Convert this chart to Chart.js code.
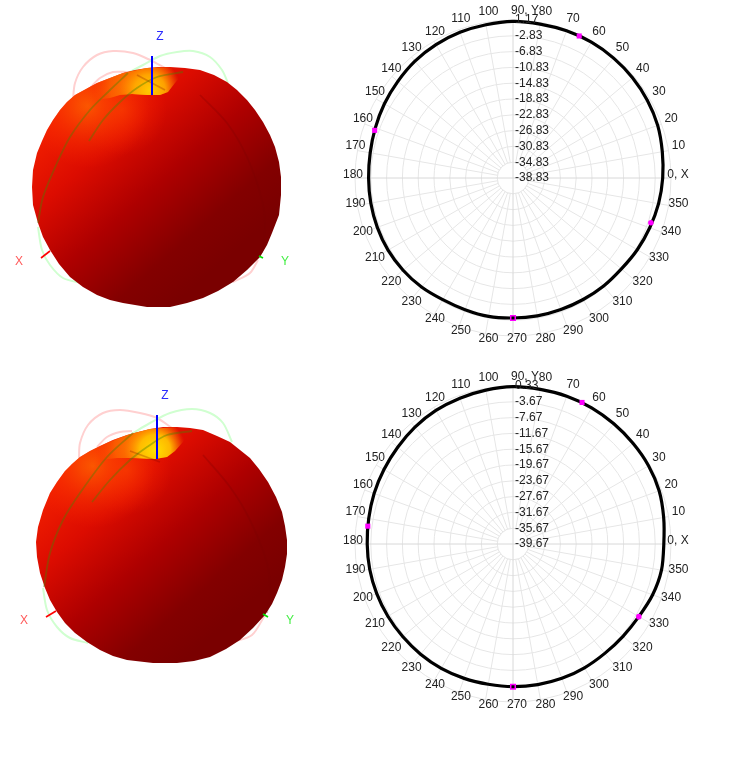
<!DOCTYPE html>
<html lang="en">
<head>
    <meta charset="utf-8" />
    <title>Radiation pattern</title>
    <style>
        body { margin: 0; background: #fff; }
        canvas { position: absolute; }
    </style>
    <script src="https://cdn.jsdelivr.net/npm/chart.js"></script>
</head>
<body>
    <canvas id="ball1" style="left:0;top:20px" width="310" height="300"></canvas>
    <canvas id="polar1" style="left:333px;top:0" width="360" height="356"></canvas>
    <canvas id="ball2" style="left:0;top:380px" width="310" height="300"></canvas>
    <canvas id="polar2" style="left:333px;top:366px" width="360" height="356"></canvas>
    <script>
        // polar traces, one value every 10 degrees starting at 0
        const traceAngles = [0, 10, 20, 30, 40, 50, 60, 70, 80, 90, 100, 110, 120, 130, 140, 150, 160, 170, 180, 190, 200, 210, 220, 230, 240, 250, 260, 270, 280, 290, 300, 310, 320, 330, 340, 350];
        const angleLabels = ['0, X', '10', '20', '30', '40', '50', '60', '70', '80', '90, Y', '100', '110', '120', '130', '140', '150', '160', '170', '180', '190', '200', '210', '220', '230', '240', '250', '260', '270', '280', '290', '300', '310', '320', '330', '340', '350'];

        const trace1 = [-0.93, -0.45, 0.15, 0.46, 0.66, 0.79, 0.87, 0.82, 0.74, 0.82, 0.56, 0.41, 0.16, -0.22, -0.78, -1.24, -1.74, -2.12, -2.27, -2.27, -2.27, -2.30, -2.50, -2.80, -3.26, -3.34, -3.24, -3.39, -3.39, -3.39, -3.31, -3.13, -3.01, -2.50, -1.99, -1.41];
        const ticks1 = [-38.83, -34.83, -30.83, -26.83, -22.83, -18.83, -14.83, -10.83, -6.83, -2.83, 1.17];
        const markerAngles1 = [65, 161, 342];
        const markerValues1 = [0.84, -1.79, -2.12];
        const minAngle1 = [270];
        const minValue1 = [-3.39];

        const trace2 = [-1.49, -0.94, -0.30, -0.05, -0.02, 0.05, 0.15, 0.15, 0.08, 0.15, -0.10, -0.38, -0.63, -1.06, -1.57, -1.95, -2.25, -2.58, -2.76, -2.83, -2.96, -3.09, -3.21, -3.26, -3.32, -3.47, -3.62, -3.54, -3.52, -3.47, -3.49, -3.52, -3.32, -2.89, -2.05, -1.50];
        const ticks2 = [-39.67, -35.67, -31.67, -27.67, -23.67, -19.67, -15.67, -11.67, -7.67, -3.67, 0.33];
        const markerAngles2 = [64, 173, 330];
        const markerValues2 = [0.20, -2.63, -2.89];
        const minAngle2 = [270];
        const minValue2 = [-3.54];

        // 3D views, points
        const outline1 = [[170,47],[185,48],[200,50],[214,55],[227,62],[237,70],[247,80],[255,90],[263,102],[270,115],[275,127],[279,142],[281,157],[281,175],[279,195],[272,213],[267,225],[260,237],[247,250],[233,262],[218,271],[203,278],[187,283],[170,287],[147,287],[123,283],[110,280],[97,275],[83,267],[70,257],[59,244],[50,230],[43,217],[38,203],[33,185],[32,167],[33,150],[37,133],[42,121],[47,110],[53,100],[60,90],[67,82],[75,75],[86,69],[97,63],[110,58],[123,53],[135,50],[147,48],[158,47]];
        const dimple1 = [[80,80],[95,80],[110,78],[120,75],[132,74],[147,75],[160,75],[168,72],[175,63],[182,55],[186,48],[170,47],[147,48],[123,53],[97,63],[75,75]];
        const loops1 = [
            [[73,80],[75,63],[83,47],[97,35],[113,31],[133,33],[150,40],[165,48]],
            [[90,68],[100,58],[113,52],[128,52]],
            [[128,53],[143,45],[160,36],[177,32],[193,31],[210,37],[222,50],[228,63]],
            [[38,207],[42,230],[50,245],[63,258],[82,263]],
            [[233,262],[250,253],[258,240]]
        ];
        const greenOnBall1 = [[[38,203],[43,177],[57,143],[70,117],[90,90],[110,70],[128,53]], [[89,121],[103,100],[120,82],[137,68],[157,57],[183,52]]];
        const redOnBall1 = [[[200,75],[227,103],[247,137],[262,180],[265,207],[262,233]], [[137,55],[165,70]]];
        const axisZ1 = [[152,36],[152,75]];
        const axisX1 = [[41,238],[50,231]];
        const axisY1 = [[259,236],[263,238]];
        const axisText1 = [['Z', 160, 17, '#2a2aff'], ['X', 19, 242, '#ff5a5a'], ['Y', 285, 242, '#44ee44']];

        const outline2 = [[177,47],[190,48],[203,50],[217,56],[230,62],[240,70],[250,78],[259,89],[268,102],[276,117],[282,132],[285,146],[287,160],[287,174],[285,187],[282,200],[277,213],[272,224],[265,235],[253,248],[240,260],[226,269],[210,277],[194,281],[177,283],[153,283],[127,280],[113,276],[100,270],[87,262],[75,253],[65,243],[57,232],[50,220],[45,208],[40,193],[37,177],[36,162],[38,147],[43,130],[50,113],[57,102],[65,91],[72,84],[80,77],[90,71],[100,66],[113,60],[127,55],[138,52],[150,49],[163,47]];
        const dimple2 = [[85,80],[100,80],[117,78],[133,78],[155,79],[167,77],[175,71],[183,62],[187,55],[190,48],[177,47],[150,49],[127,55],[100,66],[80,77]];
        const loops2 = [
            [[79,78],[80,63],[88,45],[103,33],[120,30],[140,33],[157,38],[172,48]],
            [[97,67],[107,57],[120,52],[132,51]],
            [[133,53],[150,43],[170,33],[192,29],[210,33],[223,43],[232,62]],
            [[43,208],[47,230],[57,247],[70,258],[88,263]],
            [[233,262],[252,255],[265,235]]
        ];
        const greenOnBall2 = [[[44,207],[50,173],[63,140],[80,113],[107,77],[133,53]], [[92,122],[110,100],[130,80],[147,67],[167,55],[192,51]]];
        const redOnBall2 = [[[203,75],[230,107],[250,140],[267,183],[270,210],[267,233]], [[130,71],[160,82]]];
        const axisZ2 = [[157,35],[157,79]];
        const axisX2 = [[46,237],[56,231]];
        const axisY2 = [[263,234],[268,237]];
        const axisText2 = [['Z', 165, 16, '#2a2aff'], ['X', 24, 241, '#ff5a5a'], ['Y', 290, 241, '#44ee44']];

        const gridColor = '#e6e6e6';
        const axisLineColor = '#d8d8d8';
        const textColor = '#222';

        // the radar goes clockwise from the top, our angles go the other way from the right
        function angleIndex(angle) {
            return (90 - angle + 360) % 360;
        }

        function toSeries(angles, values) {
            const series = new Array(360).fill(NaN);
            angles.forEach((a, i) => { series[angleIndex(a)] = values[i]; });
            return series;
        }

        const polarPlugin = {
            id: 'polarExtras',
            beforeDatasetsDraw(chart) {
                const scale = chart.scales.r;
                const ctx = chart.ctx;
                const hole = scale.getDistanceFromCenterForValue(scale.ticks[1].value);
                ctx.save();
                ctx.fillStyle = '#fff';
                ctx.strokeStyle = gridColor;
                ctx.beginPath();
                ctx.arc(scale.xCenter, scale.yCenter, hole, 0, Math.PI * 2);
                ctx.fill();
                ctx.stroke();
                ctx.strokeStyle = axisLineColor;
                ctx.beginPath();
                ctx.moveTo(scale.xCenter - hole, scale.yCenter);
                ctx.lineTo(scale.xCenter + hole, scale.yCenter);
                ctx.moveTo(scale.xCenter, scale.yCenter - hole);
                ctx.lineTo(scale.xCenter, scale.yCenter + hole);
                ctx.stroke();
                ctx.restore();
            },
            afterDatasetsDraw(chart) {
                const scale = chart.scales.r;
                const ctx = chart.ctx;
                ctx.save();
                ctx.font = '12px "Liberation Sans", Arial, sans-serif';
                ctx.fillStyle = textColor;
                ctx.textBaseline = 'middle';
                // value labels go straight up the 90 degree line
                ctx.textAlign = 'left';
                scale.ticks.forEach(t => {
                    const p = scale.getPointPositionForValue(0, t.value);
                    ctx.fillText(t.value.toFixed(2), p.x + 2, p.y);
                });
                ctx.textAlign = 'center';
                traceAngles.forEach((a, i) => {
                    const px = scale.getPointPosition(angleIndex(a), 164).x + 4;
                    const py = scale.getPointPosition(angleIndex(a), 166).y - 3;
                    const nudge = a === 0 ? -3 : a === 90 ? 8 : 0;
                    ctx.fillText(angleLabels[i], px + nudge, py + (a === 90 ? 2 : a === 270 ? -2 : 0));
                });
                ctx.restore();
            }
        };

        function drawPolar(id, trace, ticks, markerAngles, markerValues, minAngle, minValue) {
            const labels = Array.from({ length: 360 }, (_, i) => String(angleIndex(i)));
            new Chart(document.getElementById(id), {
                type: 'radar',
                data: {
                    labels: labels,
                    datasets: [
                        {
                            data: toSeries(markerAngles, markerValues),
                            showLine: false,
                            pointStyle: c => (c.raw === markerValues[2] ? 'circle' : 'rect'),
                            pointRadius: c => (c.raw === markerValues[2] ? 2.8 : 3.6),
                            pointBorderWidth: 0,
                            pointBackgroundColor: '#ff00ff'
                        },
                        {
                            data: toSeries(minAngle, minValue),
                            showLine: false,
                            pointStyle: 'rect',
                            pointRadius: 3.2,
                            pointBorderWidth: 1.5,
                            pointBorderColor: '#ff00ff',
                            pointBackgroundColor: '#000'
                        },
                        {
                            data: toSeries(traceAngles, trace),
                            spanGaps: true,
                            borderColor: '#000',
                            borderWidth: 3.2,
                            tension: 0.3,
                            pointRadius: 0,
                            fill: false
                        }
                    ]
                },
                options: {
                    responsive: false,
                    animation: false,
                    events: [],
                    layout: { padding: { left: 22, right: 22, top: 20, bottom: 20 } },
                    plugins: { legend: { display: false }, tooltip: { enabled: false } },
                    scales: {
                        r: {
                            min: ticks[0],
                            max: ticks[ticks.length - 1],
                            afterBuildTicks: scale => { scale.ticks = ticks.map(v => ({ value: v })); },
                            ticks: { display: false },
                            pointLabels: { display: false },
                            grid: { circular: true, color: gridColor, lineWidth: 1 },
                            angleLines: {
                                color: c => (c.index % 90 === 0 ? axisLineColor : gridColor),
                                lineWidth: c => (c.index % 10 === 0 ? 1 : 0)
                            }
                        }
                    }
                },
                plugins: [polarPlugin]
            });
        }

        function toPoints(list) {
            return list.map(p => ({ x: p[0], y: p[1] }));
        }

        // x and y scales run 1:1 with the canvas, so gradient stops sit in the same units
        function radial(c, x, y, r, stops) {
            const g = c.chart.ctx.createRadialGradient(x, y, 0, x, y, r);
            stops.forEach(s => g.addColorStop(s[0], s[1]));
            return g;
        }

        function linear(c, x0, y0, x1, y1, stops) {
            const g = c.chart.ctx.createLinearGradient(x0, y0, x1, y1);
            stops.forEach(s => g.addColorStop(s[0], s[1]));
            return g;
        }

        function filled(points, color) {
            return { data: toPoints(points), showLine: true, fill: 'shape', tension: 0, pointRadius: 0, borderWidth: 0, borderColor: 'transparent', backgroundColor: color };
        }

        function stroked(points, color, width) {
            return { data: toPoints(points), showLine: true, fill: false, tension: points.length > 2 ? 0.3 : 0, pointRadius: 0, borderWidth: width, borderColor: color };
        }

        function drawBall(id, outline, dimple, loops, greenOnBall, redOnBall, axisZ, axisX, axisY, axisText, shift) {
            const dx = shift;
            const base = c => linear(c, 75 + dx, 70, 225 + dx, 240, [[0, '#f52200'], [0.28, '#dc0c00'], [0.55, '#ae0000'], [0.82, '#830000'], [1, '#7a0000']]);
            const glow = c => radial(c, 88 + dx, 86, 62, [[0, 'rgba(255,110,0,0.78)'], [0.55, 'rgba(255,65,0,0.36)'], [1, 'rgba(255,40,0,0)']]);
            const underLip = c => radial(c, 122 + dx, 90, 45, [[0, 'rgba(255,70,0,0.5)'], [1, 'rgba(255,40,0,0)']]);
            const band = c => radial(c, 135 + dx, 66, 42, [[0, 'rgba(255,150,0,0.95)'], [0.6, 'rgba(255,120,0,0.6)'], [1, 'rgba(255,90,0,0)']]);
            const yellow = c => radial(c, 150 + dx, 70, 31, [[0, dx ? '#ffe000' : '#ffcc00'], [0.5, dx ? 'rgba(255,190,0,0.95)' : 'rgba(255,170,0,0.9)'], [1, 'rgba(255,120,0,0)']]);

            const list = [];
            loops.forEach((l, i) => list.push(stroked(l, i < 2 || i === 4 ? '#ffd0d0' : '#d0ffd0', 2)));
            list.push(filled(outline, base));
            list.push(filled(outline, glow));
            list.push(filled(outline, underLip));
            list.push(filled(dimple, band));
            list.push(filled(dimple, yellow));
            greenOnBall.forEach(l => list.push(stroked(l, 'rgba(70,130,0,0.4)', 1.8)));
            redOnBall.forEach(l => list.push(stroked(l, 'rgba(120,0,0,0.25)', 1.8)));
            list.push(stroked(axisZ, '#0000ff', 2));
            list.push(stroked(axisX, '#ff0000', 1.6));
            list.push(stroked(axisY, '#00e000', 1.6));
            // chart.js paints the first dataset last, the list above is back to front
            list.forEach((d, i) => { d.order = list.length - i; });

            new Chart(document.getElementById(id), {
                type: 'scatter',
                data: { datasets: list },
                options: {
                    responsive: false,
                    animation: false,
                    events: [],
                    layout: { padding: 0 },
                    plugins: { legend: { display: false }, tooltip: { enabled: false } },
                    scales: {
                        x: { type: 'linear', min: 0, max: 310, display: false },
                        y: { type: 'linear', min: 0, max: 300, reverse: true, display: false }
                    }
                },
                plugins: [{
                    id: 'axisText',
                    afterDatasetsDraw(chart) {
                        const ctx = chart.ctx;
                        ctx.save();
                        ctx.font = '12px "Liberation Sans", Arial, sans-serif';
                        ctx.textAlign = 'center';
                        ctx.textBaseline = 'middle';
                        axisText.forEach(t => {
                            ctx.fillStyle = t[3];
                            ctx.fillText(t[0], chart.scales.x.getPixelForValue(t[1]), chart.scales.y.getPixelForValue(t[2]));
                        });
                        ctx.restore();
                    }
                }]
            });
        }

        drawBall('ball1', outline1, dimple1, loops1, greenOnBall1, redOnBall1, axisZ1, axisX1, axisY1, axisText1, 0);
        drawPolar('polar1', trace1, ticks1, markerAngles1, markerValues1, minAngle1, minValue1);
        drawBall('ball2', outline2, dimple2, loops2, greenOnBall2, redOnBall2, axisZ2, axisX2, axisY2, axisText2, 5);
        drawPolar('polar2', trace2, ticks2, markerAngles2, markerValues2, minAngle2, minValue2);
    </script>
</body>
</html>
